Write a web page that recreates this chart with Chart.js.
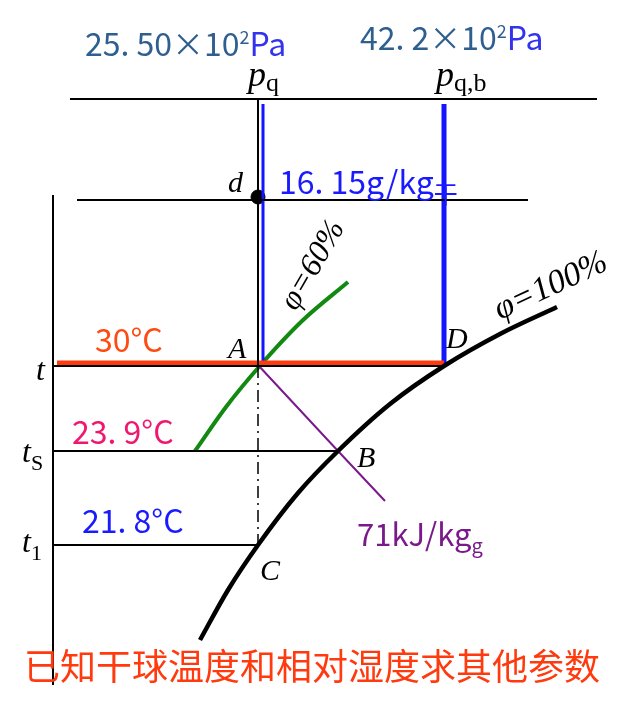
<!DOCTYPE html>
<html>
<head>
<meta charset="utf-8">
<script src="https://cdn.jsdelivr.net/npm/chart.js@4"></script>
<style>
  html, body { margin: 0; padding: 0; background: #fff; }
  #wrap { width: 640px; height: 711px; }
</style>
</head>
<body>
<div id="wrap"><canvas id="psyChart" width="640" height="711"></canvas></div>
<script>
// schematic diagram units (x: moisture direction, y: downwards temperature direction)
var pqLineX = [258, 258];
var pqLineY = [99, 366];
var pqDashX = [258, 258];
var pqDashY = [366, 545];
var pqBlueX = [263, 263];
var pqBlueY = [104, 365];
var pqbBlueX = [444, 444];
var pqbBlueY = [104, 365];
var topLineX = [70, 597];
var topLineY = [99, 99];
var dLineX = [77, 528];
var dLineY = [200, 200];
var axisX = [53, 53];
var axisY = [195, 685];
var tLineX = [53, 445];
var tLineY = [366, 366];
var tHotX = [57, 444];
var tHotY = [363, 363];
var tsLineX = [53, 338];
var tsLineY = [451, 451];
var t1LineX = [53, 258];
var t1LineY = [545, 545];
var satX = [200, 228, 258, 298, 338, 390, 444, 500, 557];
var satY = [640, 590, 545, 493, 451, 404, 366, 334, 307];
var phi60X = [195, 226, 258, 302, 348];
var phi60Y = [451, 407, 368, 321, 282];
var enthX = [258, 338, 385];
var enthY = [365, 451, 501];
var dotX = [258];
var dotY = [197];

function pts(xs, ys) {
    return xs.map(function (x, i) { return { x: x, y: ys[i] }; });
}

function line(xs, ys, color, width, extra) {
    var ds = {
        data: pts(xs, ys),
        showLine: true,
        borderColor: color,
        borderWidth: width,
        pointRadius: 0,
        fill: false,
        tension: 0
    };
    return Object.assign(ds, extra || {});
}

var serif = '"Liberation Serif", "DejaVu Serif", serif';
var cjk = '"Noto Sans CJK SC", "Noto Sans", sans-serif';

// text labels: pieces of [text, font, color, dy]
var labels = [
    { x: 85, y: 56, parts: [['25. 50×10', '32px ' + cjk, '#2f5f8f', 0], ['2', '18px ' + cjk, '#2f5f8f', -12], ['Pa', '32px ' + cjk, '#3333ee', 0]] },
    { x: 360, y: 50, parts: [['42. 2×10', '32px ' + cjk, '#2f5f8f', 0], ['2', '18px ' + cjk, '#2f5f8f', -12], ['Pa', '32px ' + cjk, '#3333ee', 0]] },
    { x: 248, y: 86, parts: [['p', 'italic 36px ' + serif, '#000', 0], ['q', '26px ' + serif, '#000', 5]] },
    { x: 436, y: 86, parts: [['p', 'italic 36px ' + serif, '#000', 0], ['q,b', '26px ' + serif, '#000', 5]] },
    { x: 228, y: 192, parts: [['d', 'italic 30px ' + serif, '#000', 0]] },
    { x: 279, y: 194, parts: [['16. 15g/kg', '32px ' + cjk, '#1a1aff', 0], ['干', '24px ' + cjk, '#1a1aff', 9]] },
    { x: 95, y: 352, parts: [['30°C', '32px ' + cjk, '#ff4a12', 0]] },
    { x: 228, y: 358, parts: [['A', 'italic 30px ' + serif, '#000', 0]] },
    { x: 446, y: 348, parts: [['D', 'italic 30px ' + serif, '#000', 0]] },
    { x: 357, y: 467, parts: [['B', 'italic 30px ' + serif, '#000', 0]] },
    { x: 260, y: 580, parts: [['C', 'italic 30px ' + serif, '#000', 0]] },
    { x: 36, y: 380, parts: [['t', 'italic 32px ' + serif, '#000', 0]] },
    { x: 22, y: 462, parts: [['t', 'italic 32px ' + serif, '#000', 0], ['S', '22px ' + serif, '#000', 8]] },
    { x: 22, y: 552, parts: [['t', 'italic 32px ' + serif, '#000', 0], ['1', '22px ' + serif, '#000', 8]] },
    { x: 72, y: 444, parts: [['23. 9°C', '32px ' + cjk, '#f0186e', 0]] },
    { x: 82, y: 533, parts: [['21. 8°C', '32px ' + cjk, '#1a1aff', 0]] },
    { x: 357, y: 546, parts: [['71kJ/kg', '31px ' + cjk, '#7a1a8a', 0], ['g', '20px ' + cjk, '#7a1a8a', 7]] },
    { x: 24, y: 680, parts: [['已知干球温度和相对湿度求其他参数', '36px ' + cjk, '#ff3a0e', 0]] },
    { x: 296, y: 312, rot: -60, parts: [['φ', 'italic 32px ' + serif, '#000', 0], ['=60%', 'italic 32px ' + serif, '#000', 0]] },
    { x: 500, y: 320, rot: -25, parts: [['φ', 'italic 34px ' + serif, '#000', 0], ['=100%', 'italic 34px ' + serif, '#000', 0]] }
];

var textPlugin = {
    id: 'diagramText',
    afterDatasetsDraw: function (chart) {
        var ctx = chart.ctx;
        var sx = chart.scales.x, sy = chart.scales.y;
        labels.forEach(function (lb) {
            ctx.save();
            ctx.translate(sx.getPixelForValue(lb.x), sy.getPixelForValue(lb.y));
            if (lb.rot) { ctx.rotate(lb.rot * Math.PI / 180); }
            ctx.textBaseline = 'alphabetic';
            ctx.textAlign = 'left';
            var cx = 0;
            lb.parts.forEach(function (p) {
                ctx.font = p[1];
                ctx.fillStyle = p[2];
                ctx.fillText(p[0], cx, p[3]);
                cx += ctx.measureText(p[0]).width;
            });
            ctx.restore();
        });
    }
};

new Chart(document.getElementById('psyChart'), {
    type: 'scatter',
    data: {
        datasets: [
            line(topLineX, topLineY, '#000', 2),
            line(dLineX, dLineY, '#000', 2),
            line(axisX, axisY, '#000', 2),
            line(tLineX, tLineY, '#000', 2),
            line(tsLineX, tsLineY, '#000', 2),
            line(t1LineX, t1LineY, '#000', 2),
            line(pqLineX, pqLineY, '#000', 2),
            line(pqDashX, pqDashY, '#000', 1.5, { borderDash: [12, 5, 2, 5] }),
            line(satX, satY, '#000', 4.5, { tension: 0.4, cubicInterpolationMode: 'monotone' }),
            line(enthX, enthY, '#7a1a8a', 2),
            line(tHotX, tHotY, '#ff3a0e', 5),
            line(pqBlueX, pqBlueY, '#1414ff', 3),
            line(pqbBlueX, pqbBlueY, '#1414ff', 5),
            line(phi60X, phi60Y, '#128a12', 4, { tension: 0.4, cubicInterpolationMode: 'monotone' }),
            {
                data: pts(dotX, dotY),
                pointRadius: 7,
                pointBackgroundColor: '#000',
                pointBorderColor: '#000',
                showLine: false
            }
        ]
    },
    options: {
        responsive: false,
        animation: false,
        layout: { padding: 0, autoPadding: false },
        plugins: { legend: { display: false }, tooltip: { enabled: false } },
        scales: {
            x: { type: 'linear', min: 0, max: 640, display: false },
            y: { type: 'linear', min: 0, max: 711, reverse: true, display: false }
        }
    },
    plugins: [textPlugin]
});
</script>
</body>
</html>
